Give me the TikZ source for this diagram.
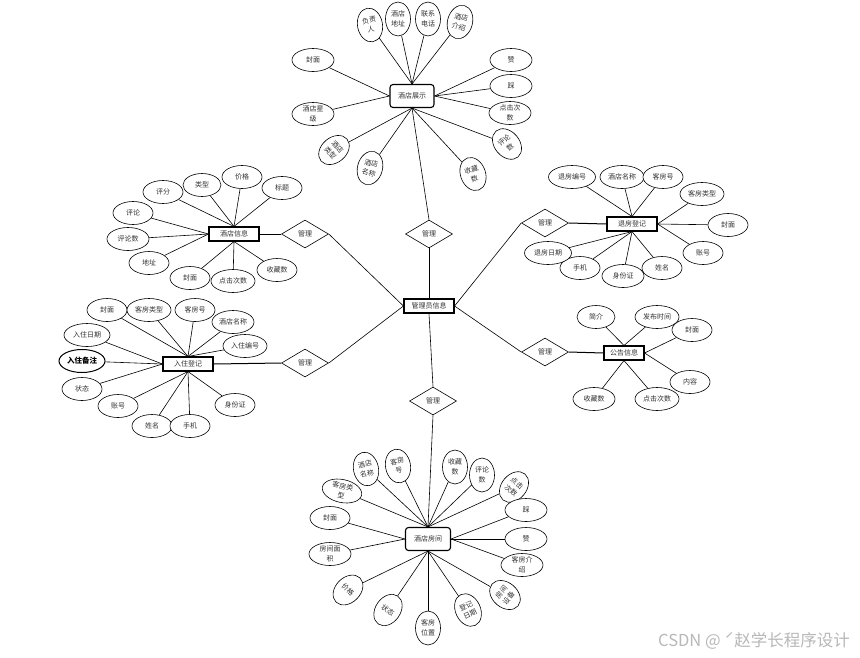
\documentclass[tikz,border=0pt]{standalone}
\usepackage{fontspec}
\newfontfamily\cjk{Noto Sans CJK SC}
\usetikzlibrary{shapes.geometric}
\pgfdeclarelayer{bg}
\pgfdeclarelayer{paper}
\pgfsetlayers{paper,bg,main}
\tikzset{
 base/.style={font=\cjk\fontsize{7}{9.5}\selectfont, text=black!80, align=center, inner sep=0pt},
 attr/.style={base, ellipse, draw, fill=white, line width=0.6pt, minimum width=40pt, minimum height=23pt},
 vattr/.style={attr, minimum width=25pt, minimum height=34pt},
 ent/.style={base, rectangle, draw, fill=white, line width=1.1pt, minimum width=50pt, minimum height=14pt},
 rent/.style={ent, rounded corners=3pt, minimum width=44pt, minimum height=23pt},
 rel/.style={base, diamond, draw, fill=white, line width=0.6pt, minimum width=47pt, minimum height=28pt},
 lk/.style={line width=0.6pt},
 tk/.style={line width=1pt}
}
\begin{document}
\begin{tikzpicture}[x=1pt,y=-1pt]
\begin{pgfonlayer}{paper}
\fill[white] (0,0) rectangle (860,657);
\end{pgfonlayer}
\useasboundingbox (0,0) rectangle (860,657);
% ---------- top cluster ----------
\node[rent] (zs) at (412,96) {酒店展示};
\node[vattr, rotate=10] (t1) at (370,25) {负责\\人};
\node[vattr] (t2) at (398,19) {酒店\\地址};
\node[vattr] (t3) at (428,19) {联系\\电话};
\node[vattr, rotate=-15] (t4) at (460,22) {酒店\\介绍};
\node[attr, minimum width=42pt] (t5) at (313,60) {封面};
\node[attr, minimum width=42pt] (t6) at (313,114) {酒店星\\级};
\node[vattr, rotate=-50] (t7) at (334,150) {酒店\\类型};
\node[vattr, rotate=-15] (t8) at (370,168) {酒店\\名称};
\node[vattr, rotate=20] (t9) at (473,174) {收藏\\数};
\node[vattr, rotate=40] (t10) at (507,144) {评论\\数};
\node[attr, minimum width=42pt] (t11) at (510,113) {点击次\\数};
\node[attr, minimum width=42pt] (t12) at (511,86) {踩};
\node[attr, minimum width=42pt] (t13) at (511,60) {赞};
% ---------- center ----------
\node[ent] (gl) at (429,306) {管理员信息};
\node[rel] (d1) at (429,234) {管理};
\node[rel] (d2) at (305,234) {管理};
\node[rel] (d3) at (305,363) {管理};
\node[rel] (d4) at (433,401) {管理};
\node[rel] (d5) at (545,223) {管理};
\node[rel] (d6) at (545,352) {管理};
% ---------- upper left ----------
\node[ent] (jx) at (234,234) {酒店信息};
\node[attr] (a1) at (163,192) {评分};
\node[attr, minimum width=38pt] (a2) at (202,185) {类型};
\node[attr] (a3) at (242,177) {价格};
\node[attr] (a4) at (282,188) {标题};
\node[attr] (a5) at (133,213) {评论};
\node[attr, minimum width=42pt] (a6) at (128,239) {评论数};
\node[attr] (a7) at (149,263) {地址};
\node[attr] (a8) at (190,278) {封面};
\node[attr, minimum width=44pt] (a9) at (233,281) {点击次数};
\node[attr] (a10) at (277,270) {收藏数};
% ---------- upper right ----------
\node[ent] (tf) at (632,224) {退房登记};
\node[attr, minimum width=47pt] (b1) at (572,177) {退房编号};
\node[attr, minimum width=44pt] (b2) at (622,177) {酒店名称};
\node[attr] (b3) at (663,177) {客房号};
\node[attr, minimum width=44pt] (b4) at (702,194) {客房类型};
\node[attr] (b5) at (728,225) {封面};
\node[attr] (b6) at (703,253) {账号};
\node[attr, minimum width=42pt] (b8) at (623,276) {身份证};
\node[attr] (b7) at (662,268) {姓名};
\node[attr] (b9) at (580,268) {手机};
\node[attr, minimum width=47pt] (b10) at (548,253) {退房日期};
% ---------- lower left ----------
\node[ent] (rz) at (188,364) {入住登记};
\node[attr] (c1) at (107,310) {封面};
\node[attr, minimum width=44pt] (c2) at (149,310) {客房类型};
\node[attr] (c3) at (195,310) {客房号};
\node[attr, minimum width=42pt] (c4) at (233,322) {酒店名称};
\node[attr, minimum width=44pt] (c5) at (245,346) {入住编号};
\node[attr, minimum width=46pt] (c6) at (87,335) {入住日期};
\node[attr, minimum width=46pt, line width=1pt, text=black, font=\cjk\bfseries\fontsize{7.5}{9.5}\selectfont] (c7) at (82,361) {入住备注};
\node[attr] (c8) at (82,389) {状态};
\node[attr] (c9) at (118,406) {账号};
\node[attr] (c10) at (152,426) {姓名};
\node[attr] (c11) at (190,426) {手机};
\node[attr] (c12) at (235,405) {身份证};
% ---------- lower right ----------
\node[ent, minimum width=40pt] (gg) at (624,353) {公告信息};
\node[attr, minimum width=38pt] (e1) at (596,317) {简介};
\node[attr, minimum width=44pt] (e2) at (657,317) {发布时间};
\node[attr] (e3) at (692,330) {封面};
\node[attr] (e4) at (690,382) {内容};
\node[attr, minimum width=44pt] (e5) at (657,399) {点击次数};
\node[attr, minimum width=42pt] (e6) at (594,399) {收藏数};
% ---------- bottom ----------
\node[rent, minimum width=45pt] (fj) at (428,539) {酒店房间};
\node[attr, rotate=-12] (f1) at (342,491) {客房类\\型};
\node[vattr, rotate=12] (f2) at (366,469) {酒店\\名称};
\node[vattr, rotate=10] (f3) at (398,466) {客房\\号};
\node[vattr] (f4) at (455,467) {收藏\\数};
\node[vattr] (f5) at (482,475) {评论\\数};
\node[vattr, rotate=-40] (f6) at (514,487) {点击\\次数};
\node[attr, minimum width=42pt] (f7) at (526,510) {踩};
\node[attr, minimum width=42pt] (f8) at (526,539) {赞};
\node[attr, minimum width=42pt] (f9) at (522,565) {客房介\\绍};
\node[vattr, rotate=50] (f10) at (505,595) {房间\\设备};
\node[vattr, rotate=25] (f11) at (468,610) {登记\\日期};
\node[vattr] (f12) at (428,628) {客房\\位置};
\node[vattr, rotate=-35] (f13) at (388,610) {状态};
\node[vattr, rotate=-45] (f14) at (348,590) {价格};
\node[attr, minimum width=42pt] (f15) at (330,554) {房间面\\积};
\node[attr] (f16) at (330,518) {封面};
% ---------- watermark ----------
\node[font=\cjk\fontsize{16.5}{18}\selectfont, text=black!28, anchor=west, inner sep=0pt] (wm) at (658,641) {CSDN @ ˊ赵学长程序设计};
% ---------- connectors ----------
\begin{pgfonlayer}{bg}
\foreach \n in {t1,t2,t3,t4} \draw[lk] (\n) -- (zs.north);
\foreach \n in {t5,t6} \draw[lk] (\n) -- (zs.west);
\foreach \n in {t7,t8,t9,t10} \draw[lk] (\n) -- (zs.south);
\foreach \n in {t11,t12,t13} \draw[lk] (\n) -- (zs.east);
\draw[lk] (zs.south) -- (d1.north);
\draw[lk] (d1.south) -- (gl.north);
\draw[lk] (d2.east) -- (gl.west);
\draw[lk] (d3.east) -- (gl.west);
\draw[lk] (d4.north) -- (gl.south);
\draw[lk] (d5.west) -- (gl.east);
\draw[lk] (d6.west) -- (gl.east);
\draw[lk] (d4.south) -- (fj.north);
\draw[tk] (jx.east) -- (d2.west);
\draw[tk] (d5.east) -- (tf.west);
\draw[tk] (rz.east) -- (d3.west);
\draw[tk] (d6.east) -- (gg.west);
\foreach \n in {a1,a2,a3,a4} \draw[lk] (\n) -- (jx.north);
\foreach \n in {a5,a6,a7} \draw[lk] (\n) -- (jx.west);
\foreach \n in {a8,a9,a10} \draw[lk] (\n) -- (jx.south);
\foreach \n in {b1,b2,b3} \draw[lk] (\n) -- (tf.north);
\foreach \n in {b4,b5,b6} \draw[lk] (\n) -- (tf.east);
\foreach \n in {b7,b8,b9,b10} \draw[lk] (\n) -- (tf.south);
\foreach \n in {c1,c2,c3,c4,c5} \draw[lk] (\n) -- (rz.north);
\foreach \n in {c6,c7,c8} \draw[lk] (\n) -- (rz.west);
\foreach \n in {c9,c10,c11,c12} \draw[lk] (\n) -- (rz.south);
\foreach \n in {e1,e2} \draw[lk] (\n) -- (gg.north);
\foreach \n in {e3,e4} \draw[lk] (\n) -- (gg.east);
\foreach \n in {e5,e6} \draw[lk] (\n) -- (gg.south);
\foreach \n in {f1,f2,f3,f4,f5,f6} \draw[lk] (\n) -- (fj.north);
\foreach \n in {f7,f8,f9} \draw[lk] (\n) -- (fj.east);
\foreach \n in {f10,f11,f12,f13,f14} \draw[lk] (\n) -- (fj.south);
\foreach \n in {f15,f16} \draw[lk] (\n) -- (fj.west);
\end{pgfonlayer}
\end{tikzpicture}
\end{document}
